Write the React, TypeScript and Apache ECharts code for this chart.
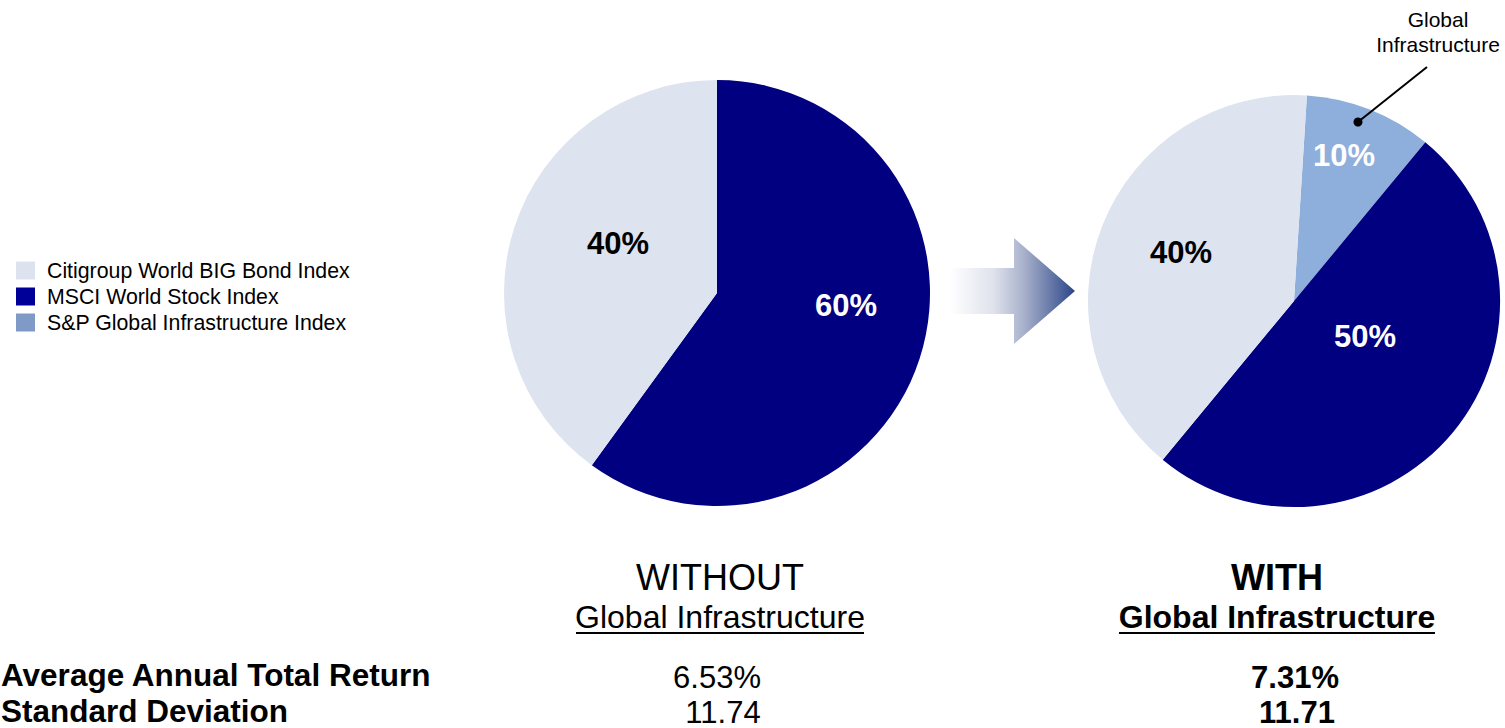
import React, { useEffect, useRef } from "react";
import * as echarts from "echarts";

// ---------- data ----------
const categories = [
  "Citigroup World BIG Bond Index",
  "MSCI World Stock Index",
  "S&P Global Infrastructure Index",
];
const withoutShares = [40, 60, 0];
const withShares = [40, 50, 10];
// clockwise drawing order (indices into categories)
const withoutOrder = [1, 0];
const withOrder = [2, 1, 0];

const statLabels = ["Average Annual Total Return", "Standard Deviation"];
const withoutStats = ["6.53%", "11.74"];
const withStats = ["7.31%", "11.71"];
const calloutText = "Global\nInfrastructure";

// ---------- styles ----------
const FONT = "Liberation Sans, Arial, Helvetica, sans-serif";
const sliceColors = ["#dde3ef", "#000080", "#8eaedb"];
const legendColors = ["#dce3ef", "#000099", "#7f9ac6"];
const labelColors = ["#000000", "#ffffff", "#ffffff"];

const leftLabelPos: Record<number, [number, number]> = {
  1: [846, 305],
  0: [618, 243],
};
const rightLabelPos: Record<number, [number, number]> = {
  2: [1344, 155],
  1: [1365, 336],
  0: [1181, 252],
};

function buildData(values: number[], order: number[]) {
  return order.map((i) => ({
    name: categories[i],
    value: values[i],
    catIndex: i,
    itemStyle: { color: sliceColors[i] },
    label: { color: labelColors[i] },
  }));
}

export default function App() {
  const ref = useRef<HTMLDivElement>(null);

  useEffect(() => {
    if (!ref.current) return;
    const chart = echarts.init(ref.current, undefined, { renderer: "svg" });

    const leftData = buildData(withoutShares, withoutOrder);
    const rightData = buildData(withShares, withOrder);

    const pieLabel = {
      show: true,
      position: "inside",
      formatter: "{c}%",
      fontFamily: FONT,
      fontSize: 31,
      fontWeight: "bold",
    };

    const txt = (
      text: string,
      x: number,
      y: number,
      size: number,
      bold: boolean,
      align: string = "center"
    ) => ({
      type: "text",
      x,
      y,
      z: 100,
      silent: true,
      style: {
        text,
        fill: "#000",
        fontFamily: FONT,
        fontSize: size,
        fontWeight: bold ? "bold" : "normal",
        align,
        verticalAlign: "middle",
      },
    });

    const arrowGradient = new echarts.graphic.LinearGradient(0, 0, 1, 0, [
      { offset: 0, color: "#ffffff" },
      { offset: 0.35, color: "#dfe2ec" },
      { offset: 0.6, color: "#a6afca" },
      { offset: 1, color: "#2b4688" },
    ]);

    const option: any = {
      animation: false,
      backgroundColor: "#ffffff",
      legend: {
        orient: "vertical",
        left: 16,
        top: 260,
        padding: 0,
        itemWidth: 19,
        itemHeight: 18,
        itemGap: 5,
        icon: "rect",
        selectedMode: false,
        textStyle: {
          fontFamily: FONT,
          fontSize: 21.3,
          color: "#000",
          padding: [0, 0, 0, 7],
        },
        data: categories.map((c, i) => ({
          name: c,
          itemStyle: { color: legendColors[i] },
        })),
      },
      series: [
        {
          type: "pie",
          name: "Without",
          center: [717, 293],
          radius: 213,
          startAngle: 90,
          clockwise: true,
          silent: true,
          label: pieLabel,
          labelLine: { show: false },
          emphasis: { disabled: true },
          labelLayout: (p: any) => {
            const pos = leftLabelPos[leftData[p.dataIndex].catIndex];
            return { x: pos[0], y: pos[1] };
          },
          data: leftData,
        },
        {
          type: "pie",
          name: "With",
          center: [1294, 301],
          radius: 206,
          startAngle: 86.4,
          clockwise: true,
          silent: true,
          label: pieLabel,
          labelLine: { show: false },
          emphasis: { disabled: true },
          labelLayout: (p: any) => {
            const pos = rightLabelPos[rightData[p.dataIndex].catIndex];
            return { x: pos[0], y: pos[1] };
          },
          data: rightData,
        },
      ],
      graphic: [
        // arrow
        {
          type: "polygon",
          z: 100,
          silent: true,
          shape: {
            points: [
              [950, 268],
              [1014, 268],
              [1014, 238],
              [1075, 291],
              [1014, 344],
              [1014, 314],
              [950, 314],
            ],
          },
          style: { fill: arrowGradient },
        },
        // callout
        {
          type: "line",
          z: 100,
          silent: true,
          shape: { x1: 1358, y1: 122, x2: 1427, y2: 67 },
          style: { stroke: "#000", lineWidth: 2 },
        },
        {
          type: "circle",
          z: 100,
          silent: true,
          shape: { cx: 1358, cy: 122, r: 4.5 },
          style: { fill: "#000" },
        },
        {
          type: "text",
          z: 100,
          x: 1438,
          y: 32,
          silent: true,
          style: {
            text: calloutText,
            fill: "#000",
            fontFamily: FONT,
            fontSize: 21,
            lineHeight: 25,
            align: "center",
            verticalAlign: "middle",
          },
        },
        // headers
        txt("WITHOUT", 720, 577, 36, false),
        txt("Global Infrastructure", 720, 617, 32, false),
        {
          type: "line",
          z: 100,
          silent: true,
          shape: { x1: 576, y1: 633, x2: 864, y2: 633 },
          style: { stroke: "#000", lineWidth: 2 },
        },
        txt("WITH", 1277, 577, 36, true),
        txt("Global Infrastructure", 1277, 617, 32, true),
        {
          type: "line",
          z: 100,
          silent: true,
          shape: { x1: 1119, y1: 633, x2: 1435, y2: 633 },
          style: { stroke: "#000", lineWidth: 2 },
        },
        // stats
        txt(statLabels[0], 1, 675, 31.5, true, "left"),
        txt(statLabels[1], 1, 711, 31.5, true, "left"),
        txt(withoutStats[0], 717, 677, 31, false),
        txt(withoutStats[1], 723, 712, 31, false),
        txt(withStats[0], 1295, 677, 31, true),
        txt(withStats[1], 1297, 712, 31, true),
      ],
    };

    chart.setOption(option);
    return () => chart.dispose();
  }, []);

  return (
    <div
      ref={ref}
      style={{
        position: "fixed",
        left: 0,
        top: 0,
        width: 1505,
        height: 728,
        background: "#fff",
      }}
    />
  );
}
